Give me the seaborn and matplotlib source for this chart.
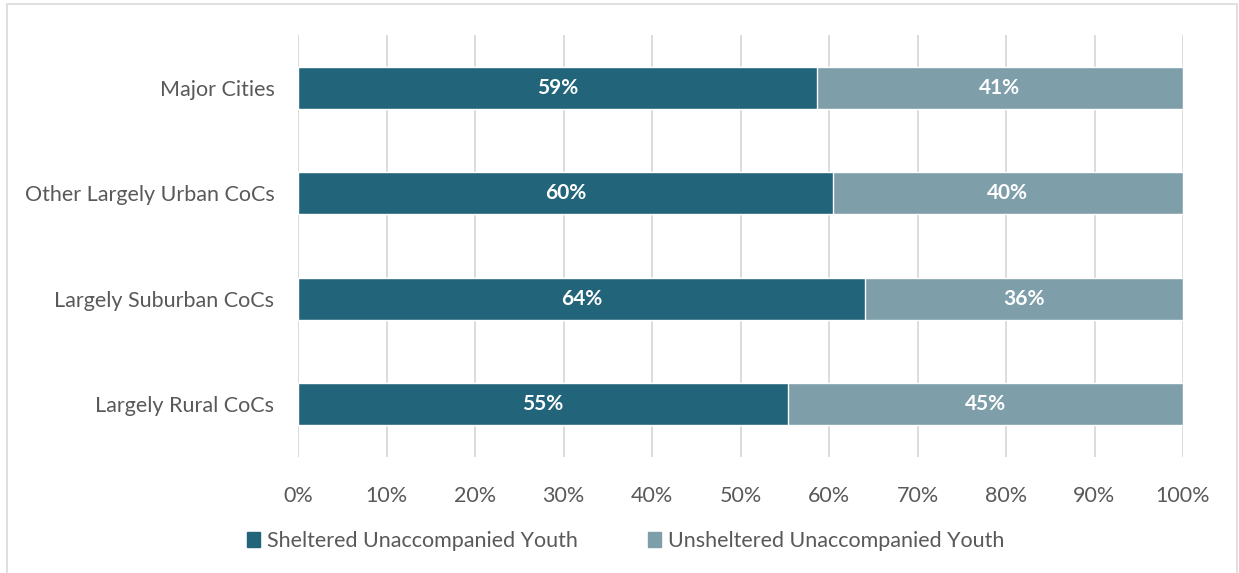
import matplotlib.pyplot as plt
import seaborn as sns
import pandas as pd
from matplotlib.patches import Rectangle, Patch

# data
categories = ["Major Cities", "Other Largely Urban CoCs", "Largely Suburban CoCs", "Largely Rural CoCs"]
sheltered = [58.6, 60.4, 64.1, 55.4]
unsheltered = [41.4, 39.6, 35.9, 44.6]
series_names = ["Sheltered Unaccompanied Youth", "Unsheltered Unaccompanied Youth"]
x_ticks = [0, 10, 20, 30, 40, 50, 60, 70, 80, 90, 100]

dark = "#22647A"
light = "#7E9EAA"
text_col = "#595959"

sns.set_theme(style="white")
plt.rcParams['font.family'] = ['Lato', 'DejaVu Sans']

df = pd.DataFrame({"cat": categories, "sh": sheltered, "un": unsheltered})
df["total"] = df["sh"] + df["un"]

fig = plt.figure(figsize=(12.39, 5.73), dpi=100)
ax = fig.add_axes([298 / 1239, 1 - 457 / 573, (1183 - 298) / 1239, (457 - 35) / 573])

# stacked bars: total in light colour, sheltered drawn over it
sns.barplot(data=df, y="cat", x="total", color=light, width=0.4, saturation=1, ax=ax, orient="h")
sns.barplot(data=df, y="cat", x="sh", color=dark, width=0.4, saturation=1, ax=ax, orient="h")

for i, (s, u) in enumerate(zip(sheltered, unsheltered)):
    ax.text(s / 2, i, f"{round(s)}%", ha="center", va="center", color="white",
            fontsize=15, fontweight="bold")
    ax.text(s + u / 2, i, f"{round(u)}%", ha="center", va="center", color="white",
            fontsize=15, fontweight="bold")

ax.set_xlim(0, 100)
ax.set_ylim(3.5, -0.5)
ax.set_xticks(x_ticks)
ax.set_xticklabels([f"{t}%" for t in x_ticks])
ax.xaxis.grid(True, color="#D9D9D9", linewidth=1.3)
ax.set_axisbelow(True)
for sp in ax.spines.values():
    sp.set_visible(False)
ax.tick_params(axis="both", length=0, labelsize=15.5, colors=text_col)
ax.tick_params(axis="y", pad=17)
ax.tick_params(axis="x", pad=21)
ax.set_xlabel("")
ax.set_ylabel("")

handles = [Patch(color=dark), Patch(color=light)]
fig.legend(handles, series_names, loc="center", bbox_to_anchor=(0.505, 1 - 541 / 573),
           ncol=2, frameon=False, fontsize=15.5, handlelength=0.6, handleheight=0.7,
           handletextpad=0.3, columnspacing=3.3, labelcolor=text_col)

# thin light frame around the chart
fig.patches.append(Rectangle((7 / 1239, -0.01), (1237 - 7) / 1239, 1 - 4 / 573 + 0.01,
                             transform=fig.transFigure, fill=False,
                             edgecolor="#D9D9D9", linewidth=1.2))

fig.savefig("out.png", dpi=100)
